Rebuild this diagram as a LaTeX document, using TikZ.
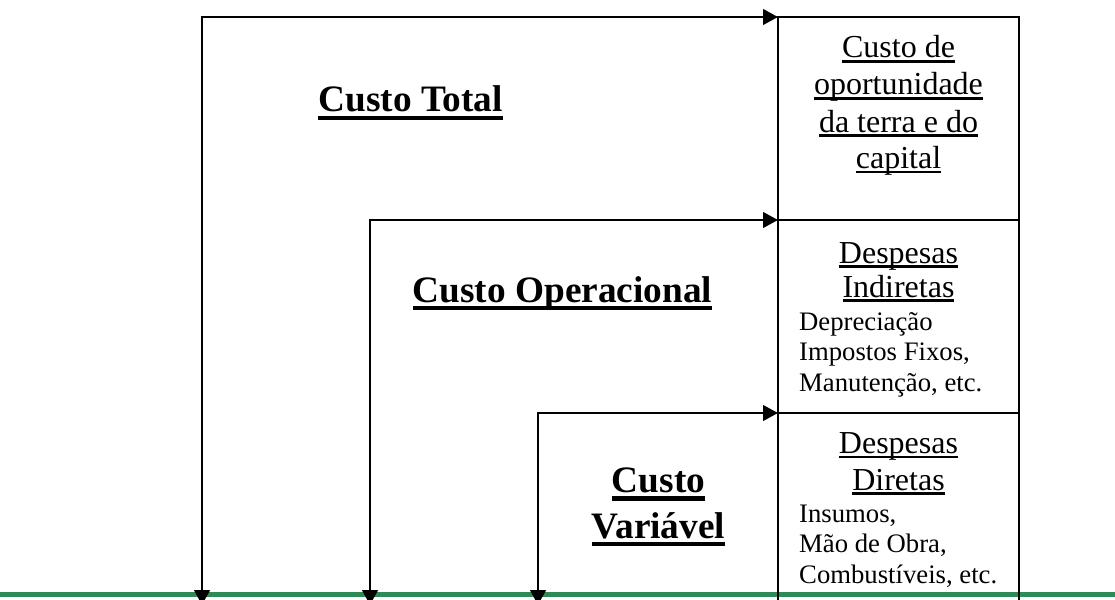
\documentclass[tikz,border=0pt]{standalone}
\usepackage{fontspec}
\setmainfont{Liberation Serif}
\usetikzlibrary{arrows.meta}
\definecolor{gline}{RGB}{46,139,87}
\newcommand\ulthin[1]{\setbox0\hbox{#1}\rlap{\rule[-4.6pt]{\wd0}{2.2pt}}\box0}
\newcommand\ulthick[1]{\setbox0\hbox{#1}\rlap{\rule[-8pt]{\wd0}{4.2pt}}\box0}
\begin{document}
\begin{tikzpicture}[x=1pt,y=-1pt,
  cell/.style={draw, line width=2.7pt, outer sep=0pt, inner sep=0pt, anchor=north west, minimum width=241pt},
  arr/.style={line width=2.7pt, {Triangle[length=15pt,width=15.5pt]}-{Triangle[length=15pt,width=15.5pt]}},
  big/.style={font=\fontsize{37.3}{44.8}\selectfont\bfseries, inner sep=0pt, anchor=base},
  head/.style={font=\fontsize{32}{36.8}\selectfont, inner sep=0pt, anchor=base},
  small/.style={font=\fontsize{26.7}{30.7}\selectfont, inner sep=0pt, anchor=base west}]
\useasboundingbox (0,0) rectangle (1115,599);
\fill[white] (0,0) rectangle (1115,599);
% ground line
\coordinate (gl) at (0,594.5);
\coordinate (gr) at (1115,594.5);
\draw[gline, line width=4.3pt] (gl) -- (gr);
% cells
\node[cell, minimum height=203pt] (cA) at (778,17) {};
\node[cell, minimum height=193pt] (cB) at (778,220) {};
\node[cell, minimum height=230pt] (cC) at (778,413) {};
% ground points
\coordinate (g1) at (202,605);
\coordinate (g2) at (370,605);
\coordinate (g3) at (538,605);
% arrows
\draw[arr] (cA.north west) -| (g1);
\draw[arr] (cB.north west) -| (g2);
\draw[arr] (cC.north west) -| (g3);
% left labels
\node[big] (ct) at (410.5,112) {\ulthick{Custo Total}};
\node[big] (co) at (562.5,302) {\ulthick{Custo Operacional}};
\node[big] (cv1) at (658.5,492.5) {\ulthick{Custo}};
\node[big] (cv2) at (658.5,538) {\ulthick{Variável}};
% top cell
\node[head] (a1) at (898.5,58) {\ulthin{Custo de}};
\node[head] (a2) at (898.5,95) {\ulthin{oportunidade}};
\node[head] (a3) at (898.5,132) {\ulthin{da terra e do}};
\node[head] (a4) at (898.5,168.5) {\ulthin{capital}};
% middle cell
\node[head] (b1) at (898.5,263) {\ulthin{Despesas}};
\node[head] (b2) at (898.5,297) {\ulthin{Indiretas}};
\node[small] (b3) at (799,330) {Depreciação};
\node[small] (b4) at (799,360.5) {Impostos Fixos,};
\node[small] (b5) at (799,391.5) {Manutenção, etc.};
% bottom cell
\node[head] (c1) at (898.5,453.3) {\ulthin{Despesas}};
\node[head] (c2) at (898.5,490) {\ulthin{Diretas}};
\node[small] (c3) at (799,522.5) {Insumos,};
\node[small] (c4) at (799,552.7) {Mão de Obra,};
\node[small] (c5) at (799,583.3) {Combustíveis, etc.};
\end{tikzpicture}
\end{document}
